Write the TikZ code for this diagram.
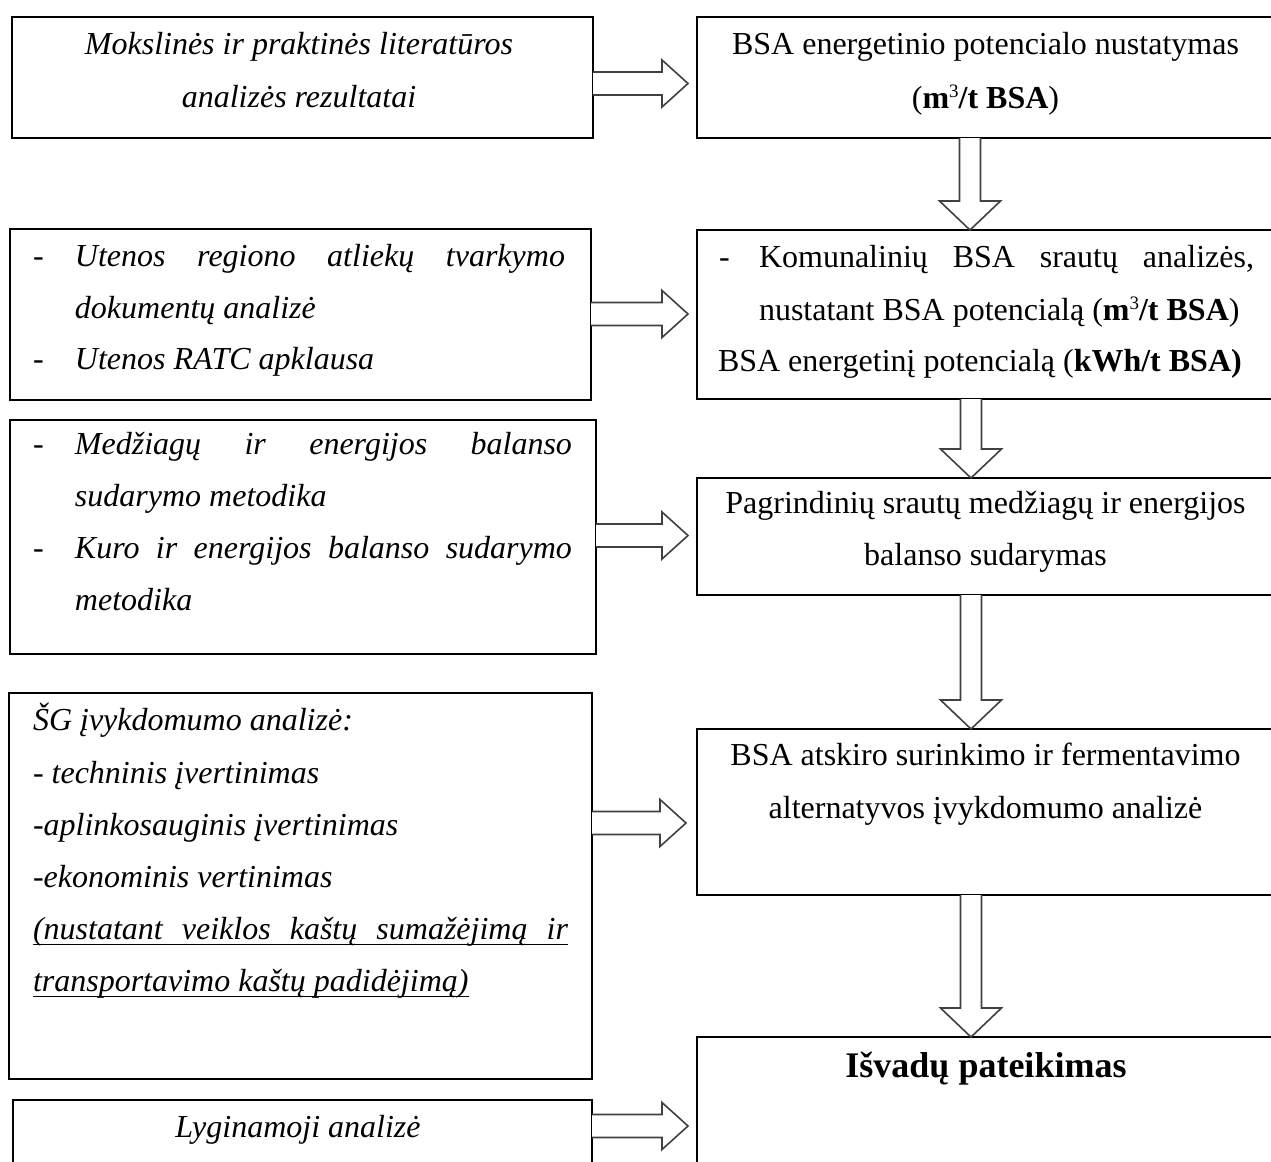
\documentclass[tikz,border=0pt]{standalone}
\usepackage{fontspec}
\setmainfont{Liberation Serif}
\usetikzlibrary{calc,fit}
\newcommand\ulline[1]{\setbox0\hbox{#1}\rlap{\rule[-3pt]{\wd0}{0.75pt}}\box0}
\newcommand\supthree{\raisebox{5.5pt}{\fontsize{9.5pt}{9.5pt}\selectfont\mdseries 3}}
\newcommand\harrow[2]{\draw[barrow] ($(#1)+(0,-11.5)$) -- ($(#2)+(-26,-11.5)$) -- ($(#2)+(-26,-23.5)$) -- (#2) -- ($(#2)+(-26,23.5)$) -- ($(#2)+(-26,11.5)$) -- ($(#1)+(0,11.5)$);}
\newcommand\varrow[2]{\draw[barrow] ($(#1)+(-10.5,0)$) -- ($(#2)+(-10.5,-29)$) -- ($(#2)+(-30.5,-29)$) -- (#2) -- ($(#2)+(30.5,-29)$) -- ($(#2)+(10.5,-29)$) -- ($(#1)+(10.5,0)$);}
\begin{document}
\begin{tikzpicture}[x=0.5pt,y=-0.5pt,
  box/.style={draw=black, line width=1pt, inner sep=0pt, outer sep=0pt},
  barrow/.style={draw=black!75, line width=0.8pt, fill=white, line join=miter},
  rt/.style={inner sep=0pt, outer sep=0pt, anchor=base west, font=\fontsize{16pt}{26pt}\selectfont},
  rc/.style={rt, anchor=base},
  it/.style={rt, font=\fontsize{16pt}{26pt}\selectfont\itshape},
  ic/.style={it, anchor=base}]
\clip (0,0) rectangle (1271,1162);
\fill[white] (0,0) rectangle (1271,1162);
% left boxes
\node[box, fit={(12,17) (593,138)}] (L1) {};
\node[box, fit={(10,229) (591,400)}] (L2) {};
\node[box, fit={(10,420) (596,654)}] (L3) {};
\node[box, fit={(9,693) (592,1079)}] (L4) {};
\node[box, fit={(13,1100) (592,1190)}] (L5) {};
% right boxes
\node[box, fit={(697,17) (1276,138)}] (R1) {};
\node[box, fit={(697,230) (1276,399)}] (R2) {};
\node[box, fit={(697,478) (1276,595)}] (R3) {};
\node[box, fit={(697,729) (1276,895)}] (R4) {};
\node[box, fit={(697,1037) (1276,1190)}] (R5) {};
% left texts
\node[ic] (l1a) at (299,54) {Mokslinės ir praktinės literatūros};
\node[ic] (l1b) at (299,107) {analizės rezultatai};
\node[it] (l2d1) at (33,266) {-};
\node[it] (l2a) at (75,266) {\makebox[245pt][s]{Utenos\hfill regiono\hfill atliekų\hfill tvarkymo}};
\node[it] (l2b) at (75,318) {dokumentų analizė};
\node[it] (l2d2) at (33,369) {-};
\node[it] (l2c) at (75,369) {Utenos RATC apklausa};
\node[it] (l3d1) at (33,454) {-};
\node[it] (l3a) at (75,454) {\makebox[248.5pt][s]{Medžiagų\hfill ir\hfill energijos\hfill balanso}};
\node[it] (l3b) at (75,506) {sudarymo metodika};
\node[it] (l3d2) at (33,558) {-};
\node[it] (l3c) at (75,558) {\makebox[248.5pt][s]{Kuro\hfill ir\hfill energijos\hfill balanso\hfill sudarymo}};
\node[it] (l3e) at (75,610) {metodika};
\node[it] (l4a) at (33,730) {ŠG įvykdomumo analizė:};
\node[it] (l4b) at (33,783) {- techninis įvertinimas};
\node[it] (l4c) at (33,835) {-aplinkosauginis įvertinimas};
\node[it] (l4d) at (33,887) {-ekonominis vertinimas};
\node[it] (l4e) at (33,939) {\ulline{\makebox[267.5pt][s]{(nustatant\hfill veiklos\hfill kaštų\hfill sumažėjimą\hfill ir}}};
\node[it] (l4f) at (33,991) {\ulline{transportavimo kaštų padidėjimą)}};
\node[ic] (l5a) at (298,1137) {Lyginamoji analizė};
% right texts
\node[rc] (r1a) at (985.5,54) {BSA energetinio potencialo nustatymas};
\node[rc] (r1b) at (985.5,108) {(\textbf{m\supthree/t BSA})};
\node[rt] (r2d) at (719,267) {-};
\node[rt] (r2a) at (759,267) {\makebox[247.5pt][s]{Komunalinių\hfill BSA\hfill srautų\hfill analizės,}};
\node[rt] (r2b) at (759,320) {nustatant BSA potencialą (\textbf{m\supthree/t BSA})};
\node[rt] (r2c) at (718,371) {BSA energetinį potencialą (\textbf{kWh/t BSA)}};
\node[rc] (r3a) at (985.5,513) {Pagrindinių srautų medžiagų ir energijos};
\node[rc] (r3b) at (985.5,565) {balanso sudarymas};
\node[rc] (r4a) at (985.5,765) {BSA atskiro surinkimo ir fermentavimo};
\node[rc] (r4b) at (985.5,818) {alternatyvos įvykdomumo analizė};
\node[rc, font=\fontsize{18pt}{26pt}\selectfont\bfseries] (r5a) at (986,1077) {Išvadų pateikimas};
% horizontal block arrows
\coordinate (h1s) at (L1.east |- 0,83.5);
\coordinate (h1t) at ($(R1.west |- 0,83.5)+(-9,0)$);
\coordinate (h2s) at (L2.east |- 0,314);
\coordinate (h2t) at ($(R2.west |- 0,314)+(-9,0)$);
\coordinate (h3s) at (L3.east |- 0,535.5);
\coordinate (h3t) at ($(R3.west |- 0,535.5)+(-9,0)$);
\coordinate (h4s) at (L4.east |- 0,823);
\coordinate (h4t) at ($(R4.west |- 0,823)+(-11,0)$);
\coordinate (h5s) at (L5.east |- 0,1126);
\coordinate (h5t) at ($(R5.west |- 0,1126)+(-9,0)$);
\harrow{h1s}{h1t}
\harrow{h2s}{h2t}
\harrow{h3s}{h3t}
\harrow{h4s}{h4t}
\harrow{h5s}{h5t}
% vertical block arrows
\coordinate (v1s) at (R1.south -| 970,0);
\coordinate (v1t) at (R2.north -| 970,0);
\coordinate (v2s) at (R2.south -| 971,0);
\coordinate (v2t) at (R3.north -| 971,0);
\coordinate (v3s) at (R3.south -| 971,0);
\coordinate (v3t) at (R4.north -| 971,0);
\coordinate (v4s) at (R4.south -| 971,0);
\coordinate (v4t) at (R5.north -| 971,0);
\varrow{v1s}{v1t}
\varrow{v2s}{v2t}
\varrow{v3s}{v3t}
\varrow{v4s}{v4t}
\end{tikzpicture}
\end{document}
